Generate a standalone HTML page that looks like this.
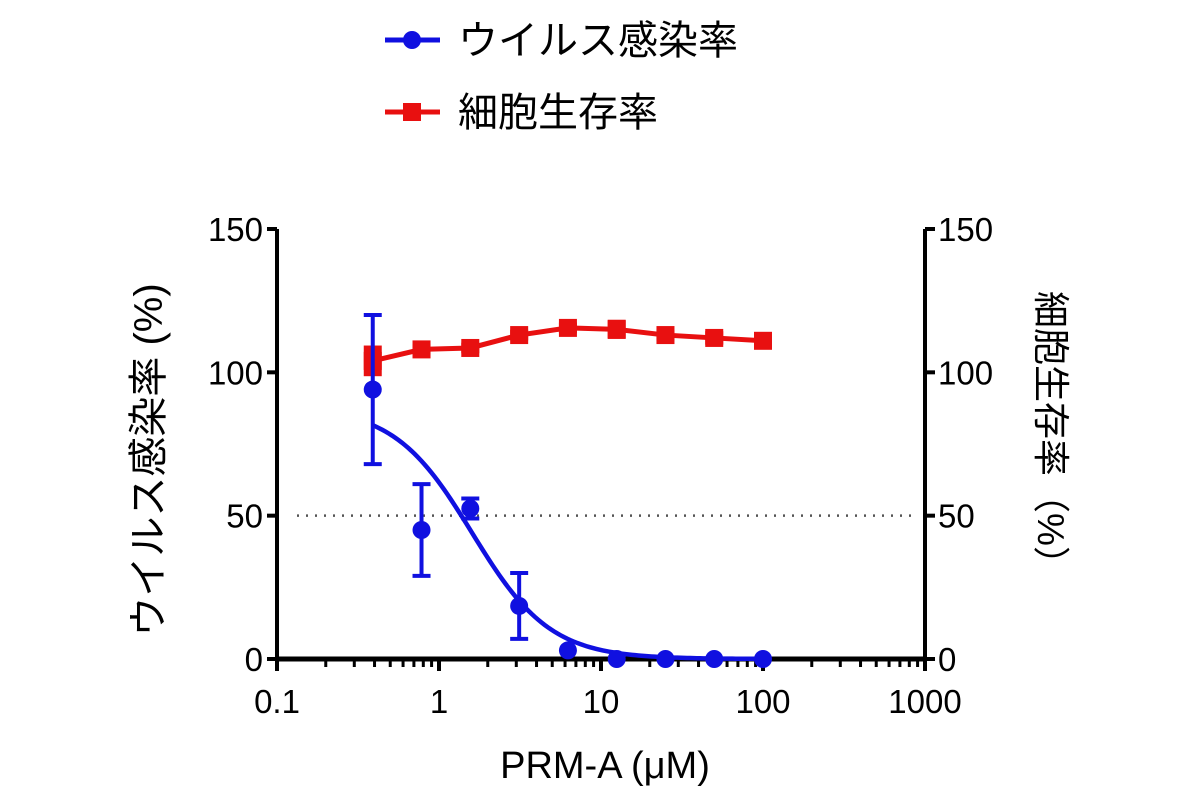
<!DOCTYPE html>
<html><head><meta charset="utf-8"><style>
body{margin:0;background:#fff;}
svg text{font-family:"Liberation Sans","Noto Sans CJK JP",sans-serif;fill:#000;}
</style></head><body>
<svg id="chart" width="1200" height="800" xmlns="http://www.w3.org/2000/svg">
<g>
 <g>
  <line x1="385" y1="40" x2="440" y2="40" stroke="#1010e0" stroke-width="5"/>
  <circle cx="412" cy="40" r="9" fill="#1010e0"/>
  <text x="458" y="54" font-size="40">ウイルス感染率</text>
 </g>
 <g>
  <line x1="385" y1="112" x2="440" y2="112" stroke="#e81010" stroke-width="5"/>
  <rect x="403" y="103" width="18" height="18" fill="#e81010"/>
  <text x="458" y="126" font-size="40">細胞生存率</text>
 </g>
</g>
<g id="axes"></g>
<g id="marks"></g>
<text x="605" y="778" font-size="38" text-anchor="middle">PRM-A (μM)</text>
<text transform="translate(162,460) rotate(-90)" font-size="40" text-anchor="middle">ウイルス感染率 (%)</text>
<text transform="translate(1038,437) rotate(90)" font-size="37" text-anchor="middle">細胞生存率（%）</text>
</svg>
<script>
const concentrations=[0.39,0.78,1.56,3.125,6.25,12.5,25,50,100];
const infectionMean=[94,45,52.5,18.5,3,0,0,0,0];
const infectionErr=[26,16,3.5,11.5,1,0,0,0,0];
const viabilityMean=[104,108,108.5,113,115.5,115,113,112,111];
const viabilityErr=[5,1.5,1.5,1.5,1.5,3,1.5,2,1];
const xTicks=[0.1,1,10,100,1000];
const xTickLabels=["0.1","1","10","100","1000"];
const yTicks=[0,50,100,150];
const fitTop=88, fitIC50=1.6, fitHill=1.8;

const X0=277,X1=925,Y0=659,Y1=229;
function xs(v){return X0+(Math.log10(v)+1)/4*(X1-X0);}
function ys(v){return Y0-v/150*(Y0-Y1);}
const NS="http://www.w3.org/2000/svg";
function mk(tag,attrs,parent){const e=document.createElementNS(NS,tag);for(const k in attrs)e.setAttribute(k,attrs[k]);parent.appendChild(e);return e;}
const axes=document.getElementById('axes'),marks=document.getElementById('marks');
let e=mk('line',{x1:xs(0.1)+20,x2:X1-10,y1:ys(50),y2:ys(50),stroke:'#555','stroke-width':2.5,'stroke-dasharray':'2 7'},axes);


e=mk('line',{x1:X0,x2:X0,y1:Y1,y2:Y0+2,stroke:'#000','stroke-width':4},axes);


e=mk('line',{x1:X1,x2:X1,y1:Y1,y2:Y0+2,stroke:'#000','stroke-width':4},axes);


e=mk('line',{x1:X0-2,x2:X1+2,y1:Y0,y2:Y0,stroke:'#000','stroke-width':5},axes);


yTicks.forEach(v=>{
 let t=mk('line',{x1:X0-10,x2:X0,y1:ys(v),y2:ys(v),stroke:'#000','stroke-width':4},axes);
 
 
 t=mk('line',{x1:X1,x2:X1+10,y1:ys(v),y2:ys(v),stroke:'#000','stroke-width':4},axes);
 
 
 let l=mk('text',{x:X0-14,y:ys(v)+12,'font-size':33,'text-anchor':'end'},axes);l.textContent=v;
 
 
 l=mk('text',{x:X1+13,y:ys(v)+12,'font-size':33},axes);l.textContent=v;
 
 
});
xTicks.forEach((v,i)=>{
 let t=mk('line',{x1:xs(v),x2:xs(v),y1:Y0,y2:Y0+12,stroke:'#000','stroke-width':4},axes);
 
 
 if(i<xTicks.length-1){for(let m=2;m<10;m++){let mt=mk('line',{x1:xs(v*m),x2:xs(v*m),y1:Y0,y2:Y0+8,stroke:'#000','stroke-width':3},axes);
  
  }}
 let l=mk('text',{x:xs(v),y:Y0+54,'font-size':33,'text-anchor':'middle'},axes);l.textContent=xTickLabels[i];
 
 
});
let pts=concentrations.map((c,i)=>xs(c)+','+ys(viabilityMean[i])).join(' ');
e=mk('polyline',{points:pts,fill:'none',stroke:'#e81010','stroke-width':5},marks);


concentrations.forEach((c,i)=>{
 let b=mk('rect',{x:xs(c)-9,y:ys(viabilityMean[i]+viabilityErr[i])-1,width:18,height:ys(viabilityMean[i]-viabilityErr[i])-ys(viabilityMean[i]+viabilityErr[i])+2,fill:'#e81010'},marks);
 
 
 let r=mk('rect',{x:xs(c)-9,y:ys(viabilityMean[i])-9,width:18,height:18,fill:'#e81010'},marks);
 
 
});
let fp=[];
for(let lx=Math.log10(concentrations[0]);lx<=Math.log10(concentrations[concentrations.length-1])+1e-9;lx+=0.02){
 const c=Math.pow(10,lx);fp.push(xs(c)+','+ys(fitTop/(1+Math.pow(c/fitIC50,fitHill))));
}
e=mk('polyline',{points:fp.join(' '),fill:'none',stroke:'#1010e0','stroke-width':4.5},marks);


concentrations.forEach((c,i)=>{
 const m=infectionMean[i],er=infectionErr[i];
 if(er>1){
  let b=mk('line',{x1:xs(c),x2:xs(c),y1:ys(m+er),y2:ys(m-er),stroke:'#1010e0','stroke-width':4},marks);
  
  
  [m+er,m-er].forEach(v=>{let cap=mk('line',{x1:xs(c)-9,x2:xs(c)+9,y1:ys(v),y2:ys(v),stroke:'#1010e0','stroke-width':4},marks);
   
   });
 }
 let p=mk('circle',{cx:xs(c),cy:ys(m),r:9,fill:'#1010e0'},marks);
 
 
});
</script>
</body></html>
